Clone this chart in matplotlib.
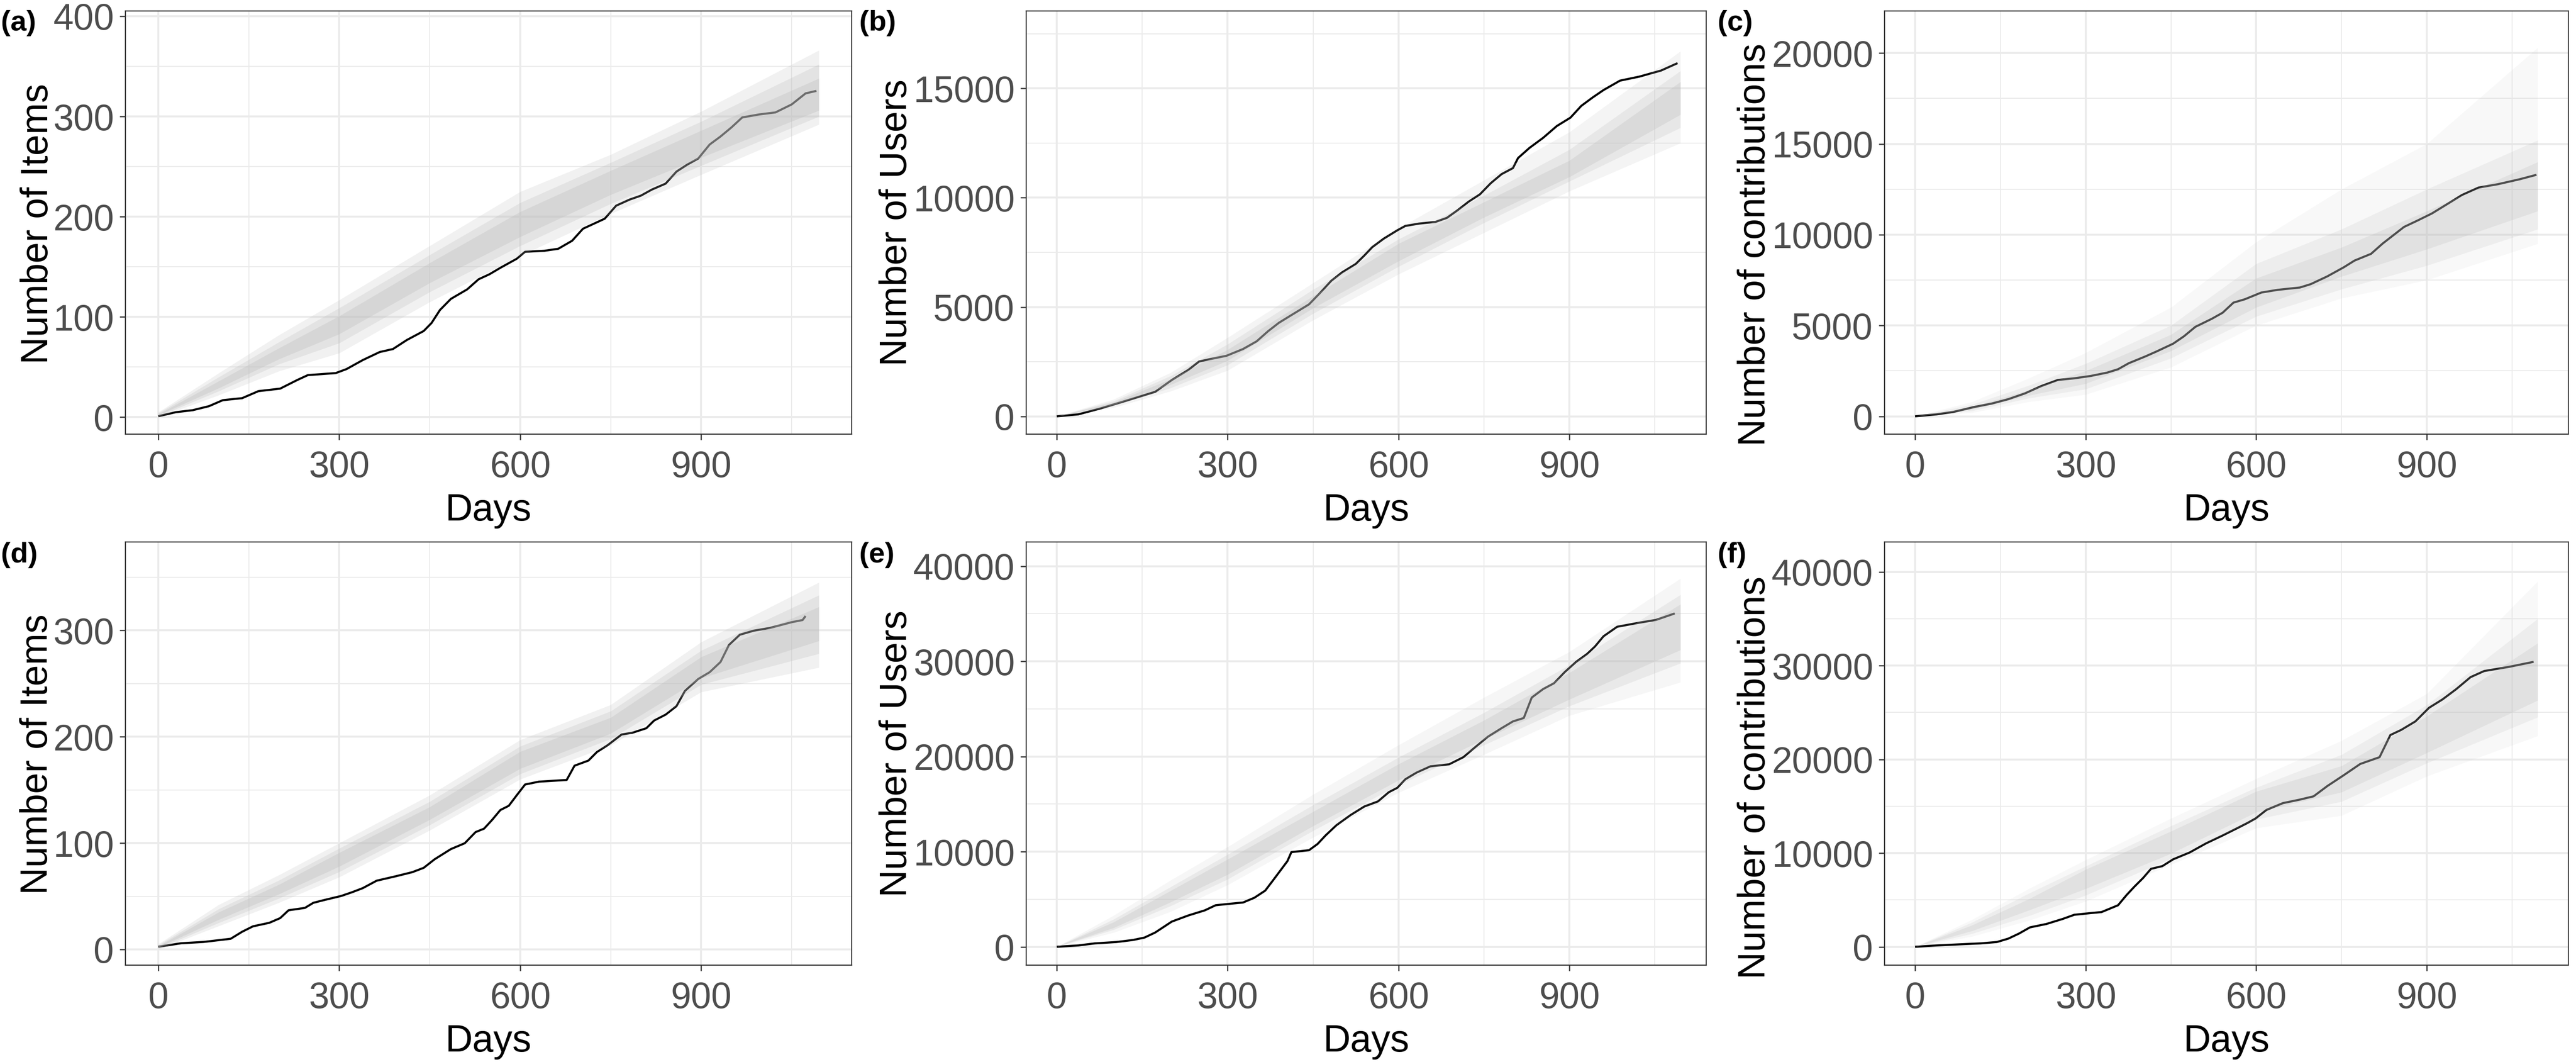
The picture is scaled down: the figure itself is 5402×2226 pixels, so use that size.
import matplotlib
matplotlib.use("Agg")
import matplotlib.pyplot as plt
from matplotlib.ticker import FixedLocator

plt.rcParams['font.family'] = ['Liberation Sans', 'DejaVu Sans']

W, H, DPI = 5402, 2226, 300

# ---------------- data ----------------
BAND_DAYS = [0, 100, 200, 300, 450, 600, 750, 900, 1095]

# (a) Number of Items
A_DAYS = [0, 29, 57, 84, 107, 139, 166, 202, 230, 248, 294, 312, 339, 367, 389, 412, 440, 453, 467, 485,
          512, 531, 549, 567, 594, 608, 640, 663, 686, 704, 722, 740, 759, 781, 800, 818, 841, 859, 877, 895,
          914, 932, 950, 968, 996, 1023, 1050, 1073, 1091]
A_OBS = [1, 5, 7, 11, 17, 19, 26, 28.5, 37, 42, 44, 48, 57, 65, 68, 77, 86, 94, 107, 118,
         127.5, 137.6, 142.6, 149, 158, 165, 166, 168, 176, 188, 193, 198, 211, 217, 221, 227, 233, 245, 252, 258,
         272, 280, 289, 299, 302, 304, 312, 323, 325.5]
A_OUT_LO = [0, 22, 46, 64, 115, 161, 203, 242, 292]
A_OUT_HI = [5, 44, 82, 117, 171, 225, 262, 305, 366]
A_MID_LO = [1, 26, 53, 74, 125, 171, 213, 251, 300]
A_MID_HI = [4, 40, 75, 109, 162, 214, 254, 295, 352]
A_CORE_LO = [2, 29, 58, 83, 134, 180, 222, 259, 306]
A_CORE_HI = [3, 36, 69, 101, 154, 205, 246, 286, 338]

# (b) Number of Users
B_DAYS = [0, 38, 76, 115, 144, 173, 202, 231, 250, 269, 298, 327, 351, 371, 390, 414, 443, 463, 482, 501,
          525, 540, 554, 574, 598, 612, 636, 665, 685, 704, 723, 743, 762, 781, 801, 810, 830, 854, 878, 902,
          921, 941, 960, 989, 1023, 1061, 1090]
B_OBS = [0, 92, 354, 660, 892, 1123, 1661, 2123, 2508, 2615, 2769, 3077, 3431, 3892, 4277, 4662, 5123, 5662, 6200, 6585,
         6970, 7354, 7738, 8123, 8508, 8708, 8815, 8892, 9077, 9431, 9815, 10154, 10662, 11077, 11354, 11815, 12277, 12738, 13277, 13662,
         14200, 14585, 14923, 15354, 15538, 15815, 16154]
B_OUT_LO = [0, 400, 1150, 2100, 4400, 6500, 8400, 10300, 12500]
B_OUT_HI = [0, 780, 2000, 3600, 6100, 8600, 10800, 13000, 16700]
B_MID_LO = [0, 470, 1300, 2350, 4700, 6850, 8850, 10750, 13200]
B_MID_HI = [0, 700, 1850, 3300, 5800, 8100, 10100, 12200, 15800]
B_CORE_LO = [0, 530, 1450, 2550, 4950, 7100, 9100, 10950, 13800]
B_CORE_HI = [0, 640, 1700, 3050, 5500, 7900, 9800, 11700, 15300]

# (c) Number of contributions
C_DAYS = [0, 38, 67, 105, 135, 164, 193, 222, 251, 280, 309, 338, 357, 376, 405, 425, 454, 473, 493, 522,
          541, 560, 580, 609, 638, 677, 696, 725, 754, 773, 802, 822, 841, 860, 885, 909, 938, 962, 991, 1025,
          1064, 1093]
C_OBS = [0, 111, 240, 518, 703, 944, 1259, 1666, 2000, 2092, 2222, 2407, 2592, 2925, 3296, 3574, 4000, 4407, 4925, 5370,
         5703, 6259, 6444, 6814, 6963, 7092, 7277, 7703, 8203, 8574, 8944, 9500, 9963, 10425, 10796, 11166, 11722, 12185, 12592, 12777,
         13055, 13296]
C_OUT_LO = [0, 200, 800, 1200, 2700, 5000, 6500, 7500, 9500]
C_OUT_HI = [0, 800, 2100, 3500, 6000, 9600, 12500, 15000, 20300]
C_MID_LO = [0, 300, 1000, 1500, 3200, 5500, 7000, 8300, 10300]
C_MID_HI = [0, 650, 1700, 2900, 5000, 8400, 10300, 12500, 15200]
C_CORE_LO = [0, 380, 1150, 1800, 3600, 6000, 7700, 9200, 11300]
C_CORE_HI = [0, 520, 1450, 2500, 4500, 7600, 9300, 11300, 14000]

# (d) Number of Items
D_DAYS = [0, 38, 75, 120, 139, 157, 184, 202, 216, 243, 257, 275, 303, 321, 339, 362, 394, 421, 440, 458,
          485, 508, 526, 540, 553, 567, 581, 595, 608, 631, 649, 677, 690, 713, 727, 745, 768, 786, 809, 822,
          841, 859, 873, 895, 914, 932, 946, 964, 987, 1014, 1050, 1068, 1073]
D_OBS = [2.5, 5.8, 7, 10, 16.6, 21.7, 25, 29.4, 36.8, 39, 43.8, 46.4, 50.2, 53.7, 57.6, 64.6, 68.8, 72.6, 76.7, 84.7,
         94.3, 99.8, 110.3, 113.5, 121.5, 131, 135, 145.5, 155, 157.7, 158.3, 159.3, 172.7, 177.5, 185.5, 192, 202, 203.7, 207.9, 215.2,
         220.7, 228.7, 243, 254.2, 260.6, 270.2, 286.2, 295.8, 299.6, 302.2, 307.6, 309.6, 313.4]
D_OUT_LO = [0, 22, 44, 68, 112, 160, 192, 242, 265]
D_OUT_HI = [5, 42, 70, 100, 145, 197, 230, 289, 345]
D_MID_LO = [1, 25, 48, 73, 117, 165, 198, 249, 278]
D_MID_HI = [4, 38, 65, 95, 139, 191, 224, 281, 333]
D_CORE_LO = [2, 28, 52, 78, 122, 170, 203, 255, 290]
D_CORE_HI = [3, 35, 61, 91, 134, 186, 218, 275, 322]

# (e) Number of Users
E_DAYS = [0, 38, 67, 105, 134, 154, 173, 202, 231, 260, 279, 308, 327, 347, 366, 380, 395, 405, 412, 443,
          458, 472, 491, 516, 540, 564, 583, 598, 612, 632, 656, 689, 714, 733, 757, 781, 801, 820, 834, 854,
          873, 892, 912, 931, 945, 960, 984, 1023, 1052, 1085]
E_OBS = [0, 143, 358, 500, 715, 966, 1503, 2647, 3291, 3828, 4365, 4544, 4651, 5152, 5900, 7000, 8200, 9000, 9950, 10150,
         10805, 11699, 12773, 13846, 14740, 15277, 16243, 16708, 17603, 18318, 18962, 19177, 19928, 20894, 22075, 22970, 23685, 24043, 26190, 27084,
         27692, 28873, 29946, 30769, 31556, 32630, 33631, 34061, 34347, 35027]
E_OUT_LO = [0, 1500, 3700, 6500, 11500, 16200, 20200, 24300, 27800]
E_OUT_HI = [0, 3300, 7000, 10500, 16000, 21200, 26200, 31000, 38700]
E_MID_LO = [0, 1800, 4300, 7100, 12200, 17000, 21200, 25300, 29800]
E_MID_HI = [0, 2900, 6300, 9700, 14900, 19900, 24600, 29600, 37000]
E_CORE_LO = [0, 2000, 4700, 7600, 12700, 17500, 21800, 26000, 31200]
E_CORE_HI = [0, 2600, 5900, 9200, 14200, 19200, 23800, 28800, 36000]

# (f) Number of contributions
F_DAYS = [0, 38, 76, 115, 144, 164, 183, 202, 231, 260, 280, 309, 328, 357, 372, 386, 401, 415, 435, 454,
          483, 512, 541, 565, 585, 599, 618, 647, 676, 701, 725, 754, 783, 817, 836, 855, 880, 904, 928, 952,
          977, 1001, 1044, 1088]
F_OBS = [0, 145, 254, 363, 509, 872, 1417, 2071, 2434, 2979, 3415, 3597, 3706, 4432, 5522, 6431, 7339, 8320, 8610, 9337,
         10064, 11044, 11880, 12607, 13224, 13697, 14605, 15332, 15695, 16058, 17148, 18311, 19510, 20236, 22598, 23142, 24051, 25504, 26412, 27502,
         28774, 29428, 29864, 30409]
F_OUT_LO = [0, 1100, 2800, 4850, 8760, 12670, 14000, 18200, 22500]
F_OUT_HI = [0, 2900, 6200, 9270, 13700, 17940, 22000, 27000, 39000]
F_MID_LO = [0, 1400, 3300, 5500, 9400, 13600, 15500, 19600, 24500]
F_MID_HI = [0, 2600, 5700, 8600, 12900, 17000, 20500, 25800, 35000]
F_CORE_LO = [0, 1700, 3900, 6200, 9950, 14370, 16500, 20700, 26300]
F_CORE_HI = [0, 2300, 5100, 8250, 12330, 16580, 19300, 24600, 32400]

X_TICKS = [0, 300, 600, 900]
X_MINOR = [150, 450, 750, 1050]
TAGS = ['(a)', '(b)', '(c)', '(d)', '(e)', '(f)']
YLABELS = ['Number of Items', 'Number of Users', 'Number of contributions',
           'Number of Items', 'Number of Users', 'Number of contributions']
XLABEL = 'Days'

# ---------------- layout (pixels) ----------------
panels = [
    dict(L=263, R=1786, T=23, B=910, xlim=(-54.5, 1149.4), ylim=(-16.9, 405.2),
         yt=[0, 100, 200, 300, 400], ym=[50, 150, 250, 350], lx=100, ly=469,
         alphas=[0.20, 0.25, 0.30],
         d=A_DAYS, o=A_OBS, bands=[(A_OUT_LO, A_OUT_HI), (A_MID_LO, A_MID_HI), (A_CORE_LO, A_CORE_HI)]),
    dict(L=2152, R=3578, T=23, B=910, xlim=(-53.6, 1140.3), ylim=(-815, 18540),
         yt=[0, 5000, 10000, 15000], ym=[2500, 7500, 12500, 17500], lx=1901, ly=467,
         alphas=[0.16, 0.22, 0.28],
         d=B_DAYS, o=B_OBS, bands=[(B_OUT_LO, B_OUT_HI), (B_MID_LO, B_MID_HI), (B_CORE_LO, B_CORE_HI)]),
    dict(L=3952, R=5386, T=23, B=910, xlim=(-53.7, 1149.1), ylim=(-982, 22315),
         yt=[0, 5000, 10000, 15000, 20000], ym=[2500, 7500, 12500, 17500], lx=3701, ly=513,
         alphas=[0.09, 0.17, 0.24],
         d=C_DAYS, o=C_OBS, bands=[(C_OUT_LO, C_OUT_HI), (C_MID_LO, C_MID_HI), (C_CORE_LO, C_CORE_HI)]),
    dict(L=263, R=1786, T=1136, B=2023, xlim=(-54.5, 1149.4), ylim=(-14.8, 383),
         yt=[0, 100, 200, 300], ym=[50, 150, 250, 350], lx=99, ly=1581,
         alphas=[0.20, 0.25, 0.30],
         d=D_DAYS, o=D_OBS, bands=[(D_OUT_LO, D_OUT_HI), (D_MID_LO, D_MID_HI), (D_CORE_LO, D_CORE_HI)]),
    dict(L=2152, R=3578, T=1136, B=2023, xlim=(-53.6, 1140.3), ylim=(-1930, 42540),
         yt=[0, 10000, 20000, 30000, 40000], ym=[5000, 15000, 25000, 35000], lx=1901, ly=1580,
         alphas=[0.13, 0.21, 0.27],
         d=E_DAYS, o=E_OBS, bands=[(E_OUT_LO, E_OUT_HI), (E_MID_LO, E_MID_HI), (E_CORE_LO, E_CORE_HI)]),
    dict(L=3952, R=5386, T=1136, B=2023, xlim=(-53.7, 1149.1), ylim=(-1960, 43200),
         yt=[0, 10000, 20000, 30000, 40000], ym=[5000, 15000, 25000, 35000], lx=3701, ly=1630,
         alphas=[0.09, 0.17, 0.24],
         d=F_DAYS, o=F_OBS, bands=[(F_OUT_LO, F_OUT_HI), (F_MID_LO, F_MID_HI), (F_CORE_LO, F_CORE_HI)]),
]

BAND_COLOR = '#BBBBBB'
TICK_FS = 18.4
TITLE_FS = 19.1
TAG_FS = 14.5

fig = plt.figure(figsize=(W / DPI, H / DPI), dpi=DPI)
fig.patch.set_facecolor('white')

for i, p in enumerate(panels):
    ax = fig.add_axes([p['L'] / W, 1 - p['B'] / H, (p['R'] - p['L']) / W, (p['B'] - p['T']) / H])
    ax.set_xlim(*p['xlim'])
    ax.set_ylim(*p['ylim'])
    ax.xaxis.set_major_locator(FixedLocator(X_TICKS))
    ax.xaxis.set_minor_locator(FixedLocator(X_MINOR))
    ax.yaxis.set_major_locator(FixedLocator(p['yt']))
    ax.yaxis.set_minor_locator(FixedLocator(p['ym']))
    ax.set_axisbelow(True)
    ax.grid(which='major', color='#EBEBEB', linewidth=1.0)
    ax.grid(which='minor', color='#EBEBEB', linewidth=0.5)
    ax.tick_params(which='major', length=2.9, width=0.6, color='#333333',
                   labelsize=TICK_FS, labelcolor='#4D4D4D')
    ax.tick_params(axis='x', which='major', pad=5.0)
    ax.tick_params(axis='y', which='major', pad=2.9)
    ax.tick_params(which='minor', length=0)
    for s in ax.spines.values():
        s.set_color('#333333')
        s.set_linewidth(0.55)

    # observed trajectory (drawn first, simulated envelope drawn over it)
    ax.plot(p['d'], p['o'], color='black', linewidth=1.05, zorder=2, solid_capstyle='butt')
    for (lo, hi), a in zip(p['bands'], p['alphas']):
        ax.fill_between(BAND_DAYS, lo, hi, color=BAND_COLOR, alpha=a, linewidth=0, zorder=3)

    # axis titles
    fig.text(p['lx'] / W, 1 - p['ly'] / H, YLABELS[i], rotation=90, rotation_mode='anchor',
             ha='center', va='baseline', fontsize=TITLE_FS, color='black')
    row_base = 1091 if i < 3 else 2204
    fig.text(((p['L'] + p['R']) / 2) / W, 1 - row_base / H, XLABEL, ha='center', va='baseline',
             fontsize=TITLE_FS, color='black')
    # panel tag
    cell_left = [2, 1802, 3602][i % 3]
    tag_top = 21 if i < 3 else 1136
    fig.text(cell_left / W, 1 - tag_top / H, TAGS[i], ha='left', va='top',
             fontsize=TAG_FS, fontweight='bold', color='black')

fig.savefig('out.png', dpi=DPI, facecolor='white')
